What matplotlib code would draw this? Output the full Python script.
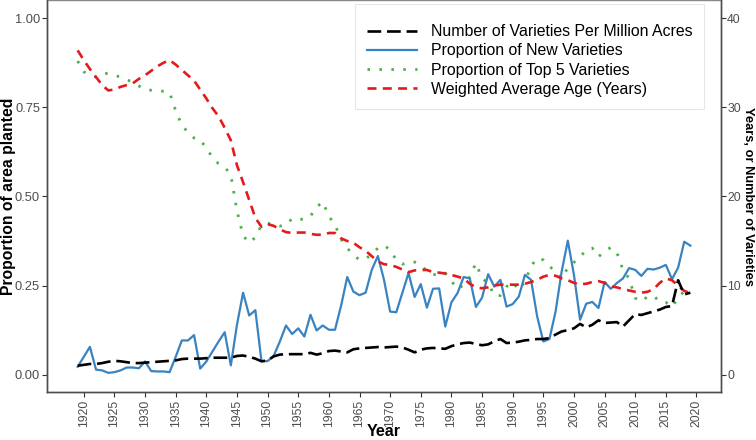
import matplotlib
matplotlib.use("Agg")
import matplotlib.pyplot as plt
from matplotlib.lines import Line2D

plt.rcParams['font.family'] = ['Liberation Sans', 'DejaVu Sans']

years = list(range(1919, 2020))

# proportion of new varieties (left axis)
new_prop = [0.022, 0.05, 0.078, 0.014, 0.012, 0.005, 0.007, 0.012, 0.02, 0.02,
            0.018, 0.037, 0.01, 0.009, 0.009, 0.007, 0.05, 0.096, 0.096, 0.111,
            0.017, 0.037, 0.065, 0.093, 0.119, 0.026, 0.14, 0.23, 0.166, 0.181,
            0.038, 0.038, 0.053, 0.093, 0.138, 0.114, 0.13, 0.107, 0.168, 0.124,
            0.138, 0.126, 0.126, 0.194, 0.274, 0.233, 0.223, 0.23, 0.294, 0.333,
            0.266, 0.177, 0.175, 0.23, 0.285, 0.218, 0.254, 0.188, 0.241, 0.242,
            0.135, 0.203, 0.229, 0.274, 0.27, 0.19, 0.216, 0.282, 0.247, 0.266,
            0.191, 0.198, 0.219, 0.28, 0.266, 0.163, 0.093, 0.1, 0.177, 0.29,
            0.376, 0.28, 0.154, 0.199, 0.204, 0.187, 0.26, 0.241, 0.257, 0.27,
            0.299, 0.294, 0.277, 0.297, 0.295, 0.3, 0.308, 0.268, 0.3, 0.373,
            0.362]

# proportion of top 5 varieties (left axis)
top5_prop = [0.88, 0.85, 0.84, 0.835, 0.845, 0.845, 0.84, 0.835, 0.828, 0.82,
             0.81, 0.80, 0.798, 0.797, 0.795, 0.792, 0.74, 0.70, 0.68, 0.664,
             0.66, 0.635, 0.61, 0.592, 0.583, 0.56, 0.46, 0.39, 0.37, 0.385,
             0.42, 0.425, 0.42, 0.417, 0.42, 0.438, 0.436, 0.436, 0.445, 0.47,
             0.485, 0.445, 0.42, 0.38, 0.355, 0.336, 0.322, 0.325, 0.338, 0.355,
             0.363, 0.35, 0.322, 0.31, 0.316, 0.316, 0.308, 0.29, 0.281, 0.28,
             0.285, 0.263, 0.24, 0.252, 0.275, 0.313, 0.27, 0.257, 0.222, 0.222,
             0.247, 0.26, 0.238, 0.261, 0.305, 0.327, 0.322, 0.305, 0.287, 0.27,
             0.30, 0.315, 0.33, 0.35, 0.355, 0.331, 0.345, 0.357, 0.343, 0.294,
             0.27, 0.215, 0.205, 0.219, 0.221, 0.205, 0.203, 0.19, 0.215, 0.235,
             0.245]

# varieties per million acres (right axis)
var_per_macre = [1.0, 1.1, 1.2, 1.2, 1.3, 1.45, 1.55, 1.5, 1.4, 1.3,
                 1.3, 1.35, 1.4, 1.45, 1.5, 1.55, 1.6, 1.75, 1.8, 1.8,
                 1.8, 1.85, 1.9, 1.9, 1.9, 1.9, 2.1, 2.15, 2.0, 1.8,
                 1.5, 1.6, 2.05, 2.25, 2.3, 2.3, 2.3, 2.3, 2.45, 2.25,
                 2.4, 2.65, 2.7, 2.6, 2.5, 2.85, 2.95, 3.0, 3.05, 3.1,
                 3.05, 3.1, 3.15, 3.05, 2.8, 2.5, 2.8, 2.95, 3.0, 2.95,
                 2.9, 3.2, 3.4, 3.55, 3.6, 3.45, 3.3, 3.4, 3.75, 4.0,
                 3.55, 3.6, 3.7, 3.85, 3.9, 4.0, 4.0, 4.1, 4.5, 4.85,
                 5.0, 5.2, 5.7, 5.3, 5.6, 6.1, 5.8, 5.85, 5.9, 5.4,
                 6.1, 6.8, 6.7, 6.9, 7.1, 7.3, 7.6, 7.7, 10.6, 9.0,
                 9.2]

# weighted average age in years (right axis)
avg_age = [36.4, 35.3, 34.3, 33.4, 32.5, 31.9, 32.0, 32.3, 32.5, 32.7,
           33.2, 33.6, 34.1, 34.6, 35.0, 35.3, 34.8, 34.2, 33.6, 33.0,
           32.0, 31.0, 29.9, 29.0, 27.7, 26.3, 23.5, 21.6, 19.6, 17.6,
           16.6, 16.9, 16.7, 16.3, 16.0, 15.9, 15.95, 15.95, 15.8, 15.7,
           15.7, 15.9, 15.9, 15.3, 15.0, 14.8, 14.3, 13.9, 13.3, 12.7,
           12.4, 12.3, 12.1, 11.8, 11.5, 11.7, 11.75, 11.75, 11.5, 11.45,
           11.35, 11.2, 11.0, 10.8, 10.2, 9.8, 9.7, 9.8, 10.0, 10.1,
           10.1, 10.1, 10.1, 10.2, 10.4, 10.65, 11.0, 11.2, 11.1, 10.8,
           10.6, 10.3, 10.15, 10.2, 10.4, 10.5, 10.3, 9.9, 9.8, 9.6,
           9.45, 9.3, 9.2, 9.3, 9.6, 10.3, 10.8, 10.6, 10.0, 9.4,
           9.15]

labels = ["Number of Varieties Per Million Acres", "Proportion of New Varieties",
          "Proportion of Top 5 Varieties", "Weighted Average Age (Years)"]
colors = ["black", "#3A83C1", "#4DAF4A", "#E41A1C"]

fig = plt.figure(figsize=(7.56, 4.4), dpi=100)
ax = fig.add_axes([0.0622, 0.108, 0.8915, 0.891])
ax2 = ax.twinx()

black_ls = (0, (5.2, 2.2))
red_ls = (0, (3.4, 2.4))
green_ls = (0, (0.9, 3.4))

ax.plot(years, new_prop, color=colors[1], lw=1.6, zorder=3)
ax.plot(years, top5_prop, color=colors[2], lw=2.0, linestyle=green_ls, zorder=2)
ax2.plot(years, var_per_macre, color=colors[0], lw=1.9, linestyle=black_ls, zorder=3)
ax2.plot(years, avg_age, color=colors[3], lw=1.9, linestyle=red_ls, zorder=2)

ax.set_xlim(1914, 2024)
ax.set_ylim(-0.05, 1.05)
ax2.set_ylim(-2, 42)

ax.set_xticks(range(1920, 2021, 5))
ax.set_xticklabels([str(y) for y in range(1920, 2021, 5)], rotation=90)
ax.set_yticks([0, 0.25, 0.5, 0.75, 1.0])
ax.set_yticklabels(["0.00", "0.25", "0.50", "0.75", "1.00"])
ax2.set_yticks([0, 10, 20, 30, 40])

for a in (ax, ax2):
    a.tick_params(colors="#333333", labelcolor="#4D4D4D", labelsize=9.3,
                  length=3.5, width=0.8, pad=1.5)
    for s in a.spines.values():
        s.set_color("#4D4D4D")
        s.set_linewidth(1.0)
ax.tick_params(axis='x', labelsize=8.8)
ax2.tick_params(axis='y', labelsize=8.8, pad=1.0)
ax2.spines['top'].set_visible(False)
ax.spines['top'].set_color("#888888")

ax.set_xlabel("Year", fontsize=11.5, fontweight="bold",
              family=['Liberation Sans Narrow', 'Liberation Sans'])
ax.xaxis.set_label_coords(0.5, -0.1)
ax.xaxis.label.set_va('center')

ax.set_ylabel("Proportion of area planted", fontsize=11.3, fontweight="bold")
ax.yaxis.set_label_coords(-0.057, 0.5)
ax.yaxis.label.set_va('center')

ax2.set_ylabel("Years, or Number of Varieties", fontsize=9.3, fontweight="bold",
               rotation=270)
ax2.yaxis.set_label_coords(1.0408, 0.5)
ax2.yaxis.label.set_va('center')
ax2.yaxis.label.set_ha('center')

handles = [
    Line2D([], [], color=colors[0], lw=1.9, linestyle=black_ls),
    Line2D([], [], color=colors[1], lw=1.6),
    Line2D([], [], color=colors[2], lw=2.0, linestyle=green_ls),
    Line2D([], [], color=colors[3], lw=1.9, linestyle=red_ls),
]
leg = ax2.legend(handles, labels, loc="upper right", bbox_to_anchor=(0.975, 0.99),
                 fontsize=11.4, handlelength=3.2, labelspacing=0.26, borderpad=0.75,
                 handletextpad=0.85, frameon=True, fancybox=False, borderaxespad=0,
                 title=" ", title_fontsize=3)
leg.get_frame().set_edgecolor("#E0E0E0")
leg.get_frame().set_linewidth(0.8)

fig.savefig("out.png", dpi=100)
